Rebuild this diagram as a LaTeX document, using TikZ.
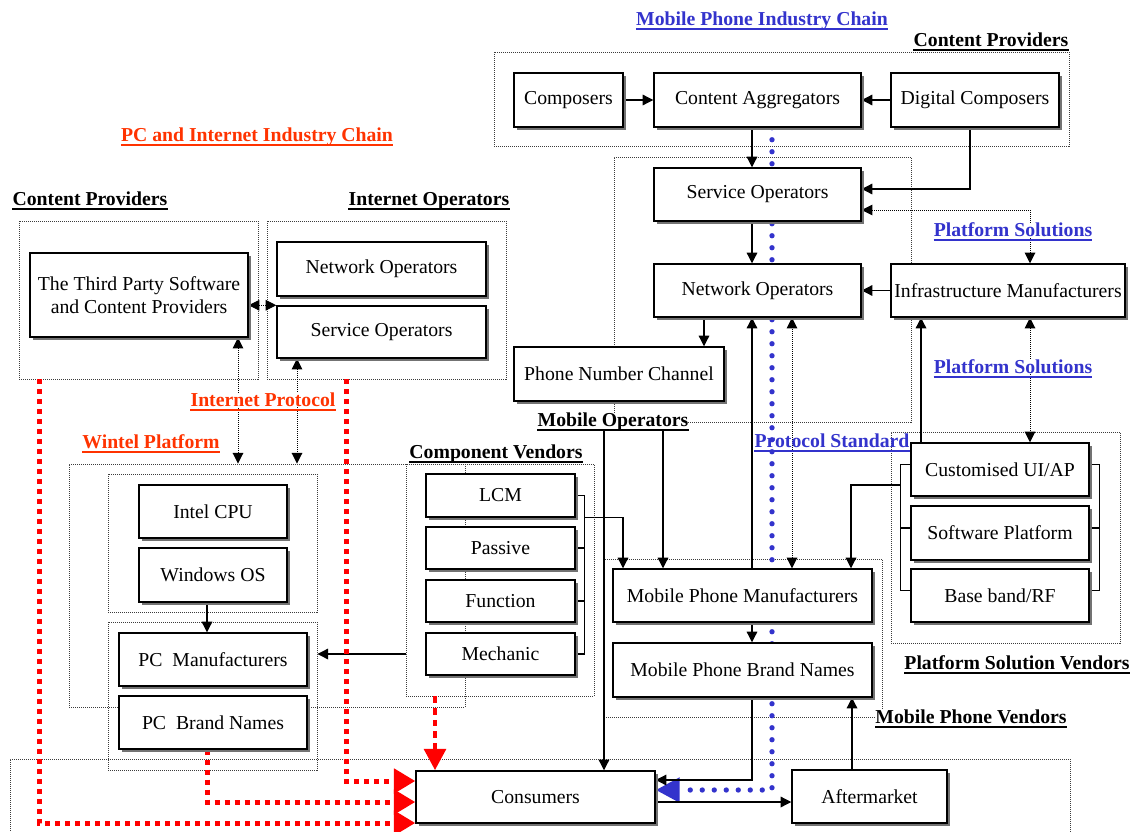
\documentclass[tikz,border=0pt]{standalone}
\usepackage{fontspec}
\setmainfont{Liberation Serif}
\usetikzlibrary{arrows.meta,calc,shadows}
\pgfdeclarelayer{bg}
\pgfsetlayers{bg,main}
\definecolor{lblue}{RGB}{51,51,204}
\definecolor{lred}{RGB}{255,51,0}
\definecolor{dred}{RGB}{255,0,0}
\definecolor{grpc}{RGB}{60,60,60}
\newcommand\basefont{\fontsize{14.8}{17}\selectfont}
\tikzset{
 box/.style={draw=black, line width=1.1pt, fill=white, inner sep=0pt, align=center, font=\basefont,
   drop shadow={shadow xshift=2.2pt,shadow yshift=-2.2pt,fill=black!55,opacity=1}},
 grp/.style={draw=grpc, line width=0.7pt, dash pattern=on 0.75pt off 0.75pt, inner sep=0pt},
 lab/.style={inner sep=0pt, font=\basefont\bfseries, anchor=base},
 ln/.style={draw=black, line width=0.9pt},
 arr/.style={ln, -{Triangle[length=8pt,width=8pt]}},
 darr/.style={draw=black, line width=0.7pt, dash pattern=on 0.75pt off 0.75pt, {Triangle[length=8pt,width=8pt]}-{Triangle[length=8pt,width=8pt]}},
 redl/.style={draw=dred, line width=3.75pt, dash pattern=on 3.75pt off 3.75pt, -{Triangle[length=16pt,width=18pt]}},
 redd/.style={draw=dred, line width=3.5pt, dash pattern=on 5pt off 3.75pt, -{Triangle[length=16pt,width=16pt]}},
 bluel/.style={draw=lblue, line width=4pt, line cap=round, dash pattern=on 0pt off 9pt, -{Triangle[length=18pt,width=18pt]}},
}
\newcommand\mybox[6]{\node[box,minimum width={(#3-#1)*0.75pt},minimum height={(#4-#2)*0.75pt}] (#5) at ({(#1+#3)/2},{(#2+#4)/2}) {#6};}
\newcommand\mygrp[5]{\node[grp,minimum width={(#3-#1)*0.75pt},minimum height={(#4-#2)*0.75pt}] (#5) at ({(#1+#3)/2},{(#2+#4)/2}) {};}
\newcommand\mylab[6]{\node[lab,text=#4,#5] (#1) at (#2,#3) {#6};
 \draw[line width=1.3pt,draw=#4] ($(#1.base west)+(0,3.5)$) -- ($(#1.base east)+(0,3.5)$);}
\begin{document}
\begin{tikzpicture}[x=0.75pt,y=-0.75pt]
\useasboundingbox (0,0) rectangle (1136,832);
\clip (0,0) rectangle (1136,832);
% groups
\begin{pgfonlayer}{bg}
\mygrp{494}{52}{1069}{146}{mcp}
\mygrp{614}{157}{911}{422}{mop}
\mygrp{891}{432}{1120}{643}{psv}
\mygrp{604}{559}{882}{717}{mpv}
\mygrp{19}{221}{258}{379}{pcp}
\mygrp{267}{221}{506}{379}{iop}
\mygrp{69}{464}{465}{707}{wintel}
\mygrp{108}{474}{317}{612}{wi1}
\mygrp{108}{622}{317}{770}{wi2}
\mygrp{406}{464}{594}{696}{cv}
\mygrp{10}{759}{1070}{880}{cgrp}
\end{pgfonlayer}
% boxes
\mybox{514}{73}{623}{127}{comp}{Composers}
\mybox{654}{73}{861}{127}{ca}{Content Aggregators}
\mybox{891}{73}{1059}{127}{dc}{Digital Composers}
\mybox{654}{168}{861}{221}{mso}{Service Operators}
\mybox{654}{264}{861}{317}{mno}{Network Operators}
\mybox{891}{264}{1125}{317}{infra}{Infrastructure Manufacturers}
\mybox{514}{347}{724}{401}{pnc}{Phone Number Channel}
\mybox{911}{443}{1089}{496}{ui}{Customised UI/AP}
\mybox{911}{506}{1089}{560}{sw}{Software Platform}
\mybox{911}{569}{1089}{622}{bb}{Base band/RF}
\mybox{613}{569}{872}{622}{mpm}{Mobile Phone Manufacturers}
\mybox{613}{643}{872}{697}{mbn}{Mobile Phone Brand Names}
\mybox{416}{771}{655}{823}{cons}{Consumers}
\mybox{792}{770}{947}{823}{after}{Aftermarket}
\mybox{30}{253}{248}{337}{tp}{The Third Party Software\\and Content Providers}
\mybox{277}{242}{486}{296}{pno}{Network Operators}
\mybox{277}{306}{486}{358}{pso}{Service Operators}
\mybox{139}{485}{287}{538}{cpu}{Intel CPU}
\mybox{139}{548}{287}{602}{win}{Windows OS}
\mybox{119}{633}{307}{686}{pcm}{PC\ \ Manufacturers}
\mybox{119}{696}{307}{749}{pcb}{PC\ \ Brand Names}
\mybox{426}{474}{575}{517}{lcm}{LCM}
\mybox{426}{527}{575}{569}{pas}{Passive}
\mybox{426}{580}{575}{622}{fun}{Function}
\mybox{426}{633}{575}{675}{mec}{Mechanic}
% labels
\mylab{mtitle}{762}{25.5}{lblue}{}{Mobile Phone Industry Chain}
\mylab{mcpl}{991}{46.5}{black}{}{Content Providers}
\mylab{pctitle}{257}{141.5}{lred}{}{PC and Internet Industry Chain}
\mylab{pccpl}{90}{205.5}{black}{}{Content Providers}
\mylab{iopl}{429}{205.5}{black}{}{Internet Operators}
\mylab{ps1}{1013}{236.5}{lblue}{fill=white}{Platform Solutions}
\mylab{ps2}{1013}{373.5}{lblue}{fill=white}{Platform Solutions}
\mylab{ipl}{263}{406.5}{lred}{fill=white}{Internet Protocol}
\mylab{mol}{613}{426.5}{black}{fill=white}{Mobile Operators}
\mylab{wpl}{151}{448.5}{lred}{}{Wintel Platform}
\mylab{psl}{832}{447.5}{lblue}{}{Protocol Standard}
\mylab{cvl}{496}{458.5}{black}{}{Component Vendors}
\mylab{psvl}{1017}{669.5}{black}{}{Platform Solution Vendors}
\mylab{mpvl}{971}{723.5}{black}{fill=white}{Mobile Phone Vendors}
% connectors
\begin{pgfonlayer}{bg}
\draw[bluel] ($(ca.south)+(14.5,0)$) |- ($(cons.east)+(0,-7)$);
\draw[arr] (comp.east) -- (ca.west);
\draw[arr] (dc.west) -- (ca.east);
\draw[arr] ($(ca.south)+(-5.5,0)$) -- ($(mso.north)+(-5.5,0)$);
\draw[arr] ($(dc.south)+(-5,0)$) |- ($(mso.east)+(0,-5.5)$);
\draw[arr] ($(mso.south)+(-5.5,0)$) -- ($(mno.north)+(-5.5,0)$);
\draw[arr] (infra.west) -- (mno.east);
\draw[arr] ($(mno.south)+(-53.5,0)$) coordinate (t) -- (t |- pnc.north);
\draw[darr] ($(mso.east)+(0,15.5)$) -| ($(infra.north)+(22,0)$);
\draw[darr] ($(infra.south)+(22,0)$) coordinate (t) -- (t |- ui.north);
\draw[arr] ($(ui.north)+(-79,0)$) coordinate (t) -- (t |- infra.south);
\draw[arr] ($(mpm.north)+(9.5,0)$) coordinate (t) -- (t |- mno.south);
\draw[darr] ($(mpm.north)+(49.5,0)$) coordinate (t) -- (t |- mno.south);
\draw[arr] ($(mpm.south)+(9.5,0)$) -- ($(mbn.north)+(9.5,0)$);
\draw[arr] ($(mbn.south)+(9.5,0)$) |- ($(cons.east)+(0,-17)$);
\draw[arr] ($(cons.east)+(0,5)$) coordinate (t) -- (t -| after.west);
\draw[arr] ($(after.north)+(-17.5,0)$) coordinate (t) -- (t |- mbn.south);
\path ($(cons.north)+(68.5,0)$) coordinate (t);
\draw[arr] (t |- mol.south) -- (t);
\path ($(mpm.north)+(-79.5,0)$) coordinate (t);
\draw[arr] (t |- mol.south) -- (t);
% component bracket
\draw[ln] (lcm.east) -- ++(9,0) coordinate (b1) -- (b1 |- mec.east) -- (mec.east);
\draw[ln] (pas.east) -- (pas.east -| b1);
\draw[ln] (fun.east) -- (fun.east -| b1);
\draw[arr] (b1 |- lcm.south) -| ($(mpm.north)+(-119.5,0)$);
% platform brackets
\coordinate (u1) at ($(ui.west)+(0,-5)$);
\coordinate (u2) at ($(sw.west)+(0,-5)$);
\coordinate (u3) at ($(bb.west)+(0,-5)$);
\draw[ln] (u1) -- ++(-10,0) coordinate (l1) -- (l1 |- u3) -- (u3);
\draw[ln] (u2) -- (u2 -| l1);
\coordinate (v1) at ($(ui.east)+(0,-5)$);
\coordinate (v2) at ($(sw.east)+(0,-5)$);
\coordinate (v3) at ($(bb.east)+(0,-5)$);
\draw[ln] (v1) -- ++(10,0) coordinate (r1) -- (r1 |- v3) -- (v3);
\draw[ln] (v2) -- (v2 -| r1);
\draw[arr] ($(ui.west)+(-10,15.5)$) -| ($(mpm.north)+(108.5,0)$);
% PC chain
\draw[darr] (tp.east |- pso.north west) -- (pso.north west);
\draw[darr] ($(tp.south)+(99,0)$) coordinate (t) -- (t |- wintel.north);
\draw[darr] ($(pso.south)+(-84.5,0)$) coordinate (t) -- (t |- wintel.north);
\draw[arr] ($(win.south)+(-6,0)$) coordinate (t) -- (t |- pcm.north);
\draw[arr] (mec.west -| cv.west) -- (mec.west -| wi2.east);
% red
\draw[redl] ($(pcp.south)+(-99.5,0)$) |- ($(cons.west)+(0,26)$);
\draw[redl] ($(iop.south)+(-40.5,0)$) |- ($(cons.west)+(0,-16)$);
\draw[redl] ($(pcb.south)+(-6,0)$) |- ($(cons.west)+(0,5)$);
\draw[redd] ($(cv.south)+(-65,0)$) coordinate (t) -- (t |- cons.north);
\end{pgfonlayer}
\end{tikzpicture}
\end{document}
